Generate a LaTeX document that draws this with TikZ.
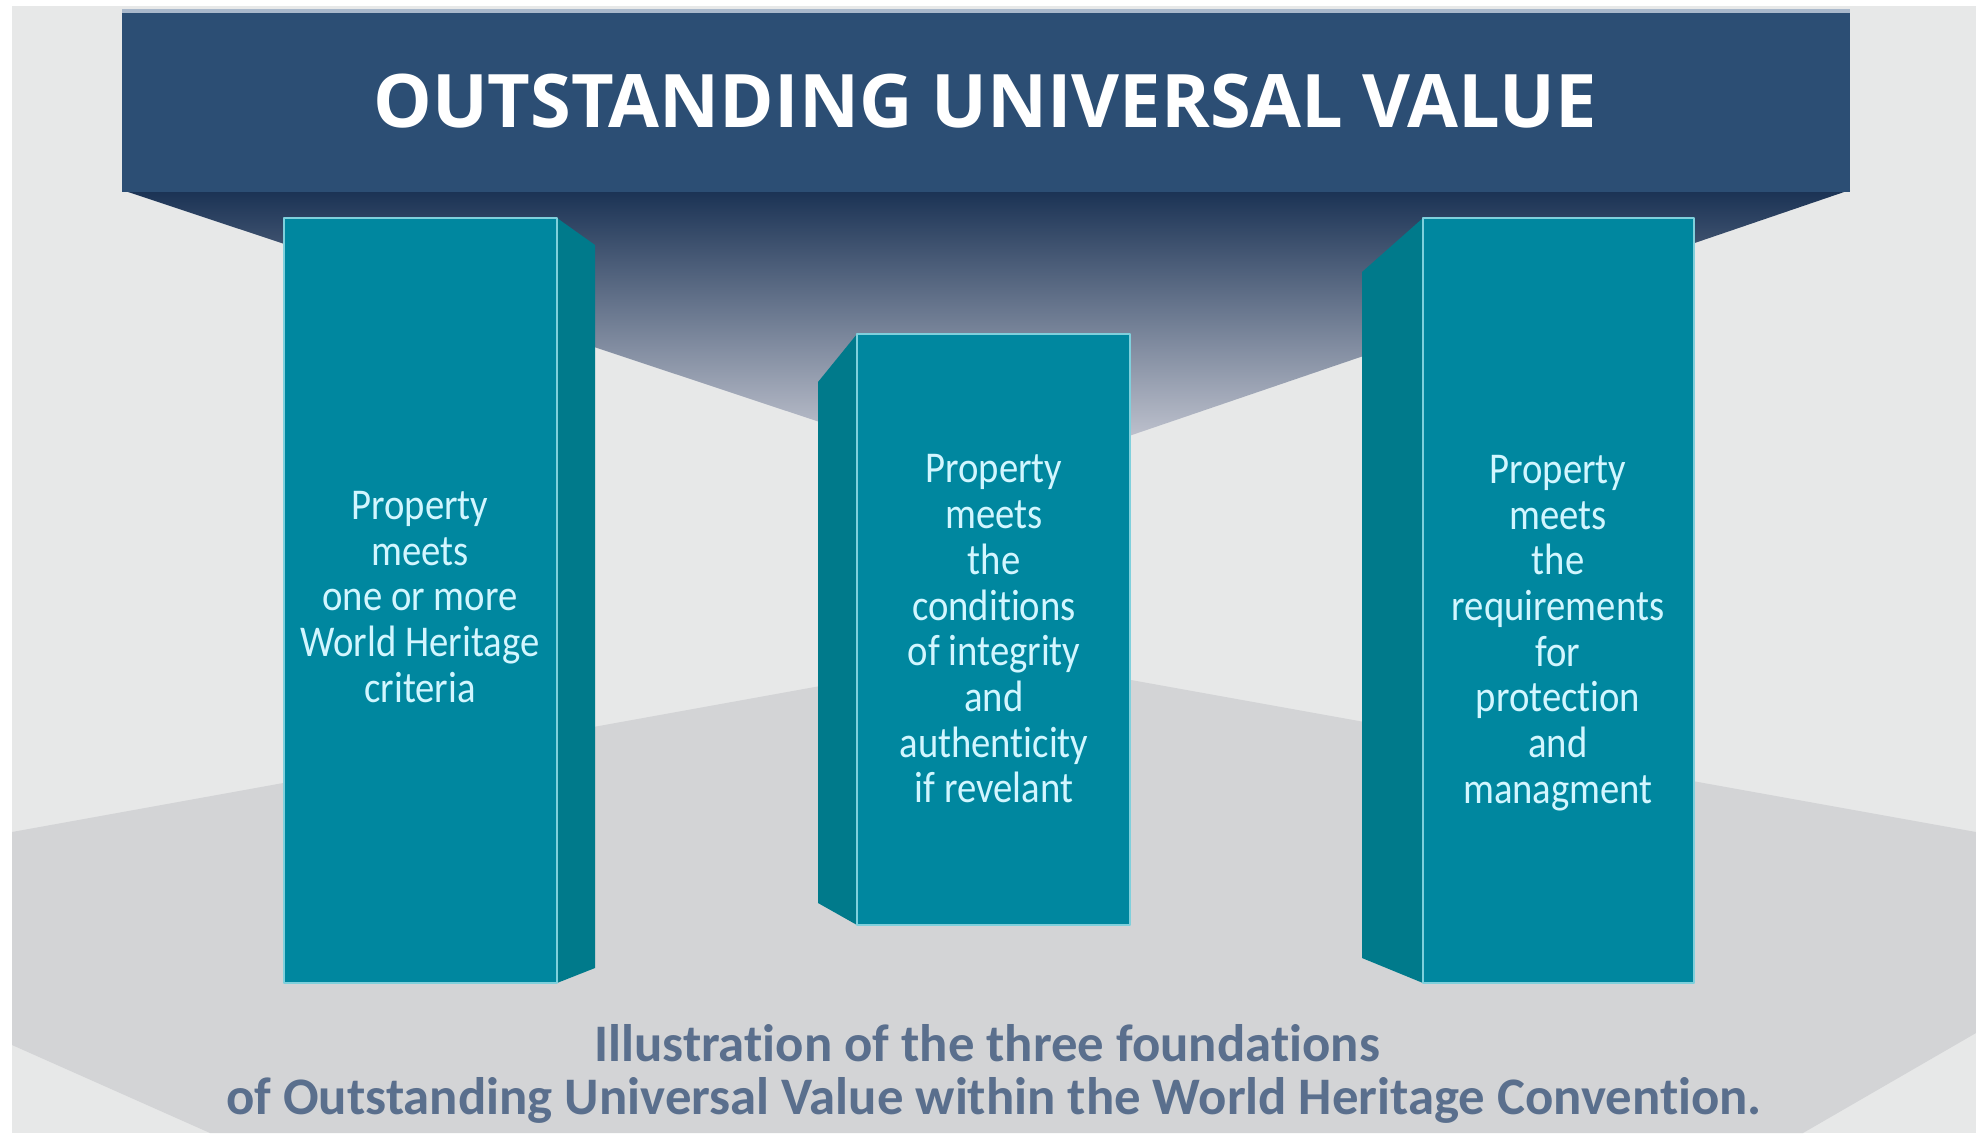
\documentclass[tikz,border=0pt]{standalone}
\usepackage{fontspec}
\newfontfamily\pillarfont[FakeStretch=0.88,Ligatures=NoCommon]{Carlito}
\newfontfamily\headfont{Open Sans}
\newfontfamily\capfont[Ligatures=NoCommon]{Carlito}

\begin{document}
\begin{tikzpicture}[x=0.01cm,y=-0.01cm,line join=round,
  pillartxt/.style={font=\pillarfont\fontsize{12.5}{13}\selectfont,text=pilltext,align=center},
  captxt/.style={font=\capfont\bfseries\fontsize{15}{15}\selectfont,text=capblue,anchor=base},
  front/.style={fill=pillfront,draw=pilledge,line width=0.4pt},
  side/.style={fill=pillside}]
  \definecolor{wall}{HTML}{E7E8E8}
  \definecolor{floor}{HTML}{D3D4D6}
  \definecolor{banner}{HTML}{2C4E74}
  \definecolor{bannerhi}{HTML}{A9B8CB}
  \definecolor{ceiltop}{HTML}{1A3254}
  \definecolor{ceilmid}{HTML}{6E7392}
  \definecolor{ceilbot}{HTML}{DADAE2}
  \definecolor{pillfront}{HTML}{00879F}
  \definecolor{pillside}{HTML}{007A8B}
  \definecolor{pilledge}{HTML}{7FD0DC}
  \definecolor{pilltext}{HTML}{D2F6FF}
  \definecolor{capblue}{HTML}{5A6F8D}

  \useasboundingbox (0,0) rectangle (1976,1133);

  % ---- room ----
  \fill[white] (0,0) rectangle (1976,1133);
  \fill[wall] (12,6) rectangle (1976,1133);
  % floor
  \fill[floor] (12,832) -- (992,655) -- (1976,832) -- (1976,1033)
    -- (1803,1133) -- (210,1133) -- (12,1045) -- cycle;
  % ceiling under the banner
  \shade[top color=ceiltop,middle color=ceilmid,bottom color=ceilbot]
    (122,190) -- (1850,190) -- (997,481) -- cycle;

  % ---- banner ----
  \fill[banner] (122,10) rectangle (1850,192);
  \draw[bannerhi,line width=1pt] (122,11) -- (1850,11);
  \node[font=\headfont\bfseries\fontsize{21}{24}\selectfont,text=white]
    (ouv) at (985,101) {OUTSTANDING UNIVERSAL VALUE};

  % ---- pillars ----
  % left
  \fill[side] (557,218) -- (595,245) -- (595,968) -- (557,983) -- cycle;
  \path[front] (284,218) rectangle (557,983);
  % centre
  \fill[side] (857,334) -- (818,382) -- (818,903) -- (857,925) -- cycle;
  \path[front] (857,334) rectangle (1130,925);
  % right
  \fill[side] (1423,218) -- (1362,272) -- (1362,958) -- (1423,983) -- cycle;
  \path[front] (1423,218) rectangle (1694,983);

  % pillar texts
  \node[pillartxt] (crit) at (420,597)
    {Property\\meets\\one or more\\World Heritage\\criteria};
  \node[pillartxt] (integ) at (994,629)
    {Property\\meets\\the\\conditions\\of integrity\\and\\authenticity\\if revelant};
  \node[pillartxt] (prot) at (1558,633)
    {Property\\meets\\the\\requirements\\for\\protection\\and\\managment};

  % ---- caption ----
  \node[captxt] (cap1) at (987,1061) {Illustration of the three foundations};
  \node[captxt] (cap2) at (994,1114)
    {of Outstanding Universal Value within the World Heritage Convention.};
\end{tikzpicture}
\end{document}
